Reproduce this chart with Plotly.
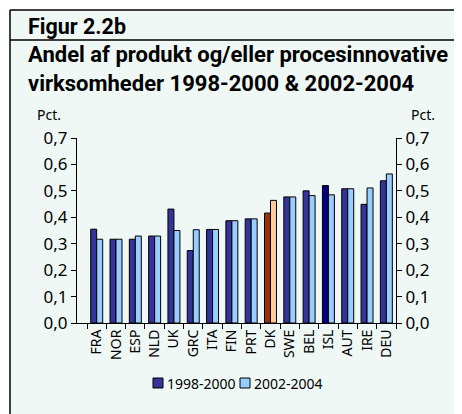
import plotly.graph_objects as go

countries = ["FRA", "NOR", "ESP", "NLD", "UK", "GRC", "ITA", "FIN", "PRT",
             "DK", "SWE", "BEL", "ISL", "AUT", "IRE", "DEU"]
v_1998_2000 = [0.355, 0.317, 0.317, 0.329, 0.431, 0.274, 0.354, 0.387, 0.394,
               0.416, 0.477, 0.500, 0.520, 0.508, 0.449, 0.538]
v_2002_2004 = [0.317, 0.317, 0.329, 0.329, 0.350, 0.353, 0.354, 0.387, 0.394,
               0.464, 0.477, 0.482, 0.485, 0.508, 0.511, 0.564]
y_ticks = [0.0, 0.1, 0.2, 0.3, 0.4, 0.5, 0.6, 0.7]
series_names = ["1998-2000", "2002-2004"]
title_lines = ["Andel af produkt og/eller procesinnovative",
               "virksomheder 1998-2000 & 2002-2004"]

DARK = "#333399"
LIGHT = "#99ccff"
col1 = [DARK] * len(countries)
col2 = [LIGHT] * len(countries)
col1[countries.index("DK")] = "#993300"
col2[countries.index("DK")] = "#ffcc99"
col1[countries.index("ISL")] = "#000080"

# the page body adds an 8px margin; positions below are in reference pixels
OFF = 8
W, H = 462 - OFF, 414 - OFF
L, R, T, B = 77, 396, 138, 323   # plot area in reference pixels
BG = "#eff8f5"
FONT = "Noto Sans"
TFONT = "Roboto"


def px(x):
    return (x - L) / (R - L)


def py(y):
    return (B - y) / (B - T)


fig = go.Figure()
fig.add_trace(go.Bar(x=countries, y=v_1998_2000, name=series_names[0], showlegend=False,
                     marker=dict(color=col1, line=dict(color="black", width=1))))
fig.add_trace(go.Bar(x=countries, y=v_2002_2004, name=series_names[1], showlegend=False,
                     marker=dict(color=col2, line=dict(color="black", width=1))))
fig.add_trace(go.Scatter(x=[countries[0]], y=[0], yaxis="y2", mode="markers",
                         marker=dict(opacity=0), showlegend=False, hoverinfo="skip"))

axis_common = dict(range=[0, 0.7], tickvals=y_ticks, tickformat=".1f",
                   ticks="outside", ticklen=5, tickcolor="black",
                   showline=True, linecolor="black", linewidth=1,
                   showgrid=False, zeroline=False, automargin=False,
                   tickfont=dict(family=FONT, size=17, color="black"))

shapes = [
    dict(type="rect", xref="paper", yref="paper", x0=px(10), x1=px(480),
         y0=py(440), y1=py(10), fillcolor=BG, line=dict(width=0), layer="below"),
    dict(type="line", xref="paper", yref="paper", x0=px(10), x1=px(480),
         y0=py(10), y1=py(10), line=dict(color="black", width=1.5)),
    dict(type="line", xref="paper", yref="paper", x0=px(10), x1=px(480),
         y0=py(40), y1=py(40), line=dict(color="black", width=1.5)),
    dict(type="line", xref="paper", yref="paper", x0=px(10), x1=px(10),
         y0=py(10), y1=py(440), line=dict(color="black", width=1.5)),
]
annotations = [
    dict(text="<b>Figur 2.2b</b>", xref="paper", yref="paper", x=px(26), y=py(27),
         xanchor="left", yanchor="middle", showarrow=False,
         font=dict(family=TFONT, size=21.5, color="black")),
    dict(text="<br>".join("<b>%s</b>" % t for t in title_lines), xref="paper", yref="paper",
         x=px(26), y=py(69), xanchor="left", yanchor="middle", align="left", showarrow=False,
         font=dict(family=TFONT, size=22, color="black")),
    dict(text="Pct.", xref="paper", yref="paper", x=px(49), y=py(115),
         xanchor="center", yanchor="middle", showarrow=False,
         font=dict(family=FONT, size=14, color="black")),
    dict(text="Pct.", xref="paper", yref="paper", x=px(423), y=py(115),
         xanchor="center", yanchor="middle", showarrow=False,
         font=dict(family=FONT, size=14, color="black")),
]

# compact legend, as in the reference
legend_items = [(series_names[0], DARK, 153), (series_names[1], LIGHT, 240)]
for name, color, x0 in legend_items:
    shapes.append(dict(type="rect", xref="paper", yref="paper",
                       x0=px(x0), x1=px(x0 + 10), y0=py(388), y1=py(378),
                       fillcolor=color, line=dict(color="black", width=1)))
    annotations.append(dict(text=name, xref="paper", yref="paper", x=px(x0 + 12), y=py(383),
                            xanchor="left", yanchor="middle", showarrow=False,
                            font=dict(family=FONT, size=14, color="black")))

fig.update_layout(
    width=W, height=H,
    margin=dict(l=L - OFF, r=W - (R - OFF), t=T - OFF, b=H - (B - OFF), pad=0),
    paper_bgcolor="white",
    plot_bgcolor="rgba(0,0,0,0)",
    separators=",.",
    barmode="group", bargap=0.38, bargroupgap=0.0,
    xaxis=dict(type="category", tickson="boundaries", ticks="outside", ticklen=5,
               tickcolor="black", showline=True, linecolor="black", linewidth=1,
               tickangle=-90, showgrid=False, automargin=False,
               tickfont=dict(family=FONT, size=14, color="black")),
    yaxis=dict(**axis_common),
    yaxis2=dict(**axis_common, overlaying="y", side="right"),
    showlegend=False,
    shapes=shapes,
    annotations=annotations,
)

fig.write_html("out.html")
